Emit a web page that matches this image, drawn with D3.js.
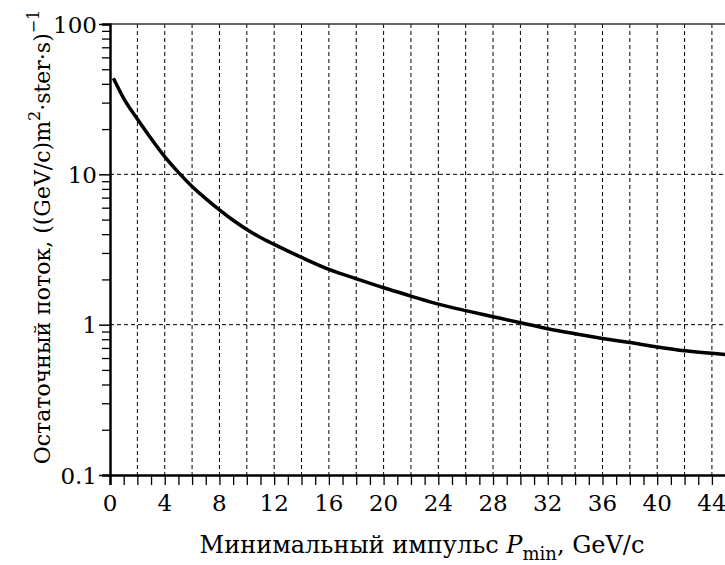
<!DOCTYPE html>
<html>
<head>
<meta charset="utf-8">
<script src="https://cdn.jsdelivr.net/npm/d3@7"></script>
<style>
  body { margin: 0; background: #fff; }
</style>
</head>
<body>
<div id="chart"></div>
<script>
// значения
const pMin  = [0.25, 1, 2, 3, 4, 5, 6, 7, 8, 9, 10, 11, 12, 14, 16, 18, 20, 22, 24, 26, 28, 30, 32, 34, 36, 38, 40, 42, 44, 46];
const flux  = [43.5, 32, 23.3, 17.3, 13.1, 10.3, 8.3, 6.9, 5.8, 4.95, 4.3, 3.8, 3.42, 2.8, 2.33, 2.02, 1.76, 1.55, 1.37, 1.24, 1.13, 1.03, 0.94, 0.87, 0.81, 0.76, 0.71, 0.67, 0.645, 0.62];
const xTickLabels = [0, 4, 8, 12, 16, 20, 24, 28, 32, 36, 40, 44];
const yTickLabels = [0.1, 1, 10, 100];

const width   = 725;
const height  = 565;
const mLeft   = 110;
const mTop    = 24;
const mBottom = 475;
const serif   = 'DejaVu Serif';

const x = d3.scaleLinear().domain([0, 46]).range([mLeft, mLeft + 46 * 13.68]);
const y = d3.scaleLog().domain([0.1, 100]).range([mBottom, mTop]);

const svg = d3.select('#chart')
  .append('svg')
  .attr('width', width)
  .attr('height', height);

// сетка
const gridX = d3.range(2, 47, 2);
svg.append('g')
  .selectAll('line')
  .data(gridX)
  .enter()
  .append('line')
  .attr('x1', d => x(d)).attr('x2', d => x(d))
  .attr('y1', mTop).attr('y2', mBottom)
  .attr('stroke', '#000')
  .attr('stroke-width', 1)
  .attr('stroke-dasharray', '4,3');

svg.append('g')
  .selectAll('line')
  .data([1, 10])
  .enter()
  .append('line')
  .attr('x1', mLeft).attr('x2', width)
  .attr('y1', d => y(d)).attr('y2', d => y(d))
  .attr('stroke', '#000')
  .attr('stroke-width', 1)
  .attr('stroke-dasharray', '4,3');

// верхняя рамка
svg.append('line')
  .attr('x1', mLeft).attr('x2', width)
  .attr('y1', mTop).attr('y2', mTop)
  .attr('stroke', '#333')
  .attr('stroke-width', 1.5);

// ось X
const xAxis = svg.append('g')
  .attr('transform', `translate(0,${mBottom})`)
  .call(d3.axisBottom(x).tickValues(d3.range(0, 47, 1)).tickSize(10).tickFormat(''));
xAxis.select('.domain').attr('stroke-width', 2.5);
xAxis.selectAll('.tick line').attr('stroke-width', 1.3);

svg.append('g')
  .selectAll('text')
  .data(xTickLabels)
  .enter()
  .append('text')
  .attr('x', d => x(d))
  .attr('y', 511)
  .attr('text-anchor', 'middle')
  .attr('font-family', serif)
  .attr('font-size', 23)
  .text(d => d);

// ось Y
const minorY = [];
[0.1, 1, 10].forEach(b => d3.range(2, 10).forEach(k => minorY.push(b * k)));
const yAxis = svg.append('g')
  .attr('transform', `translate(${mLeft},0)`)
  .call(d3.axisLeft(y).tickValues(minorY).tickSize(8).tickFormat(''));
yAxis.select('.domain').attr('stroke-width', 2.5);
yAxis.selectAll('.tick line').attr('stroke-width', 1.3);

svg.append('g')
  .attr('transform', `translate(${mLeft},0)`)
  .call(d3.axisLeft(y).tickValues(yTickLabels).tickSize(11).tickFormat(''))
  .call(g => g.select('.domain').remove())
  .selectAll('.tick line').attr('stroke-width', 1.5);

svg.append('g')
  .selectAll('text')
  .data(yTickLabels)
  .enter()
  .append('text')
  .attr('x', 97)
  .attr('y', d => y(d) + 8.5)
  .attr('text-anchor', 'end')
  .attr('font-family', serif)
  .attr('font-size', 23)
  .text(d => d);

// кривая
const line = d3.line()
  .x((d, i) => x(pMin[i]))
  .y(d => y(d))
  .curve(d3.curveMonotoneX);

svg.append('path')
  .datum(flux)
  .attr('d', line)
  .attr('fill', 'none')
  .attr('stroke', '#000')
  .attr('stroke-width', 3.5);

// подписи осей
const xl = svg.append('text')
  .attr('x', 422)
  .attr('y', 553)
  .attr('text-anchor', 'middle')
  .attr('font-family', serif)
  .attr('font-size', 24);
xl.append('tspan').text('Минимальный импульс ');
xl.append('tspan').attr('font-style', 'italic').text('P');
xl.append('tspan').attr('dy', 7).attr('font-size', 18).text('min');
xl.append('tspan').attr('dy', -7).text(', GeV/c');

const yl = svg.append('text')
  .attr('transform', 'translate(50,237) rotate(-90)')
  .attr('text-anchor', 'middle')
  .attr('font-family', serif)
  .attr('font-size', 22);
yl.append('tspan').text('Остаточный поток, ((GeV/c)m');
yl.append('tspan').attr('dy', -10).attr('font-size', 16).text('2');
yl.append('tspan').attr('dy', 10).text('·ster·s)');
yl.append('tspan').attr('dy', -11).attr('font-size', 16).text('−1');
</script>
</body>
</html>
